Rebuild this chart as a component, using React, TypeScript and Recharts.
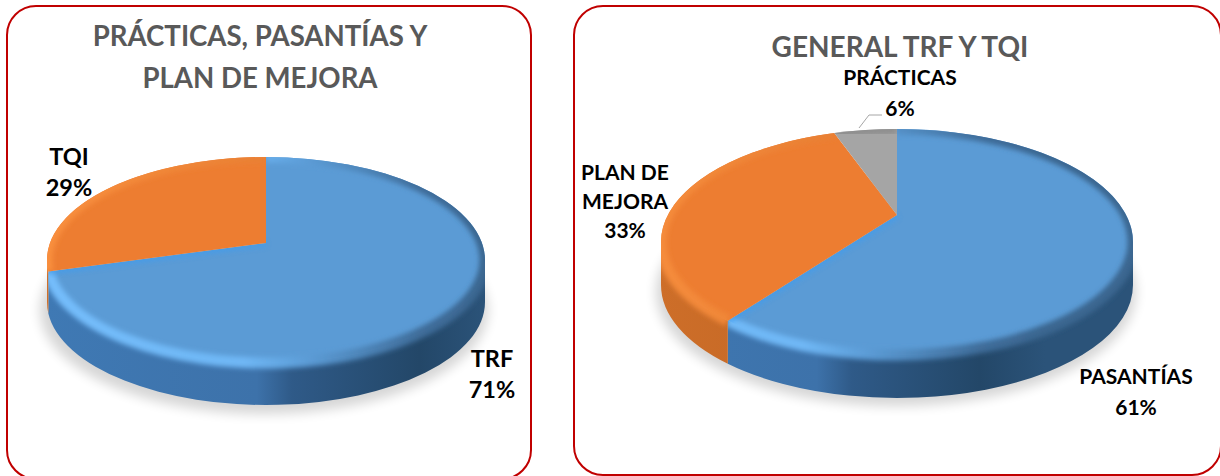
import { PieChart, Pie, Cell } from 'recharts';

const leftNames = ['TRF', 'TQI'];
const leftValues = [71, 29];
const leftColors = ['#5b9bd5', '#ed7d31'];

const rightNames = ['PASANTÍAS', 'PLAN DE MEJORA', 'PRÁCTICAS'];
const rightValues = [61, 33, 6];
const rightColors = ['#5b9bd5', '#ed7d31', '#a5a5a5'];

const leftTitle = ['PRÁCTICAS, PASANTÍAS Y', 'PLAN DE MEJORA'];
const rightTitle = ['GENERAL TRF Y TQI'];

const FONT = 'Lato, Carlito, Calibri, sans-serif';

const leftData = leftNames.map((name, i) => ({ name, value: leftValues[i] }));
const rightData = rightNames.map((name, i) => ({ name, value: rightValues[i] }));

// label layout: center x, first baseline, text lines
const leftSpots: any = {
  TRF: { x: 492, y: 367, lines: ['TRF'], size: 23.5 },
  TQI: { x: 69, y: 165, lines: ['TQI'], size: 23.5 },
};
const rightSpots: any = {
  'PASANTÍAS': { x: 576, y: 384, lines: ['PASANTÍAS'], size: 21 },
  'PLAN DE MEJORA': { x: 65, y: 180, lines: ['PLAN DE', 'MEJORA'], size: 21 },
  'PRÁCTICAS': { x: 340, y: 85, lines: ['PRÁCTICAS'], size: 21, leader: '299,128 309,115 322,115' },
};

const wallFill: any = {
  '#5b9bd5': 'url(#wallBlue)',
  '#ed7d31': 'url(#wallOrange)',
  '#a5a5a5': '#8a8a8a',
};
const rimStroke: any = {
  '#5b9bd5': 'url(#rimBlue)',
  '#ed7d31': 'url(#rimOrange)',
  '#a5a5a5': '#8f8f8f',
};

const deg = Math.PI / 180;
const TILT = 1.08;

// the disc is seen in perspective: apex sits above the ellipse center
function edgePoint(a: number, cx: number, cy: number, rx: number, ry: number, lift: number) {
  const dx = Math.cos(a * deg);
  const dy = -Math.sin(a * deg) * TILT;
  const A = dx * dx + dy * dy;
  const B = (2 * (dy * -lift)) / ry;
  const C = (lift * lift) / (ry * ry) - 1;
  const t = (-B + Math.sqrt(B * B - 4 * A * C)) / (2 * A);
  const x = cx + rx * dx * t;
  const y = cy - lift + ry * dy * t;
  return { x, y, theta: Math.atan2(-(y - cy) / ry, (x - cx) / rx) / deg };
}

function unwrap(s: number, e: number) {
  let start = s;
  let end = e;
  while (end >= start) end -= 360;
  while (start > 90.001) {
    start -= 360;
    end -= 360;
  }
  return [start, end];
}

function arcPoint(theta: number, cx: number, cy: number, rx: number, ry: number) {
  return { x: cx + rx * Math.cos(theta * deg), y: cy - ry * Math.sin(theta * deg) };
}

function wallPath(props: any, ry: number, lift: number, depth: number) {
  const { cx, cy, outerRadius: rx, startAngle, endAngle } = props;
  const p1 = edgePoint(startAngle, cx, cy, rx, ry, lift);
  const p2 = edgePoint(endAngle, cx, cy, rx, ry, lift);
  const [t1, t2] = unwrap(p1.theta, p2.theta);
  // only the lower half of the rim shows a wall
  const from = Math.min(t1, 0);
  const to = Math.max(t2, -180);
  if (from <= to) return '';
  const a = arcPoint(from, cx, cy, rx, ry);
  const b = arcPoint(to, cx, cy, rx, ry);
  return `M${a.x},${a.y} A${rx},${ry} 0 0 1 ${b.x},${b.y} L${b.x},${b.y + depth} A${rx},${ry} 0 0 0 ${a.x},${a.y + depth} Z`;
}

const makeTop = (ry: number, lift: number, depth: number) => (props: any) => {
  const { cx, cy, outerRadius: rx, startAngle, endAngle, fill } = props;
  const p1 = edgePoint(startAngle, cx, cy, rx, ry, lift);
  const p2 = edgePoint(endAngle, cx, cy, rx, ry, lift);
  const [t1, t2] = unwrap(p1.theta, p2.theta);
  const big = t1 - t2 > 180 ? 1 : 0;
  const arc = `M${p1.x},${p1.y} A${rx},${ry} 0 ${big} 1 ${p2.x},${p2.y}`;
  const d = `M${cx},${cy - lift} L${p1.x},${p1.y} A${rx},${ry} 0 ${big} 1 ${p2.x},${p2.y} Z`;
  const wall = wallPath(props, ry, lift, depth);
  const clip = `top-${Math.round(cx)}-${Math.round(startAngle)}`;
  return (
    <g>
      <clipPath id={clip}>
        <path d={d} />
      </clipPath>
      <clipPath id={`${clip}-all`}>
        <path d={d} />
        {wall && <path d={wall} />}
      </clipPath>
      <path d={d} fill={fill} />
      <g clipPath={`url(#${clip}-all)`}>
        <path d={arc} fill="none" stroke={rimStroke[fill]} strokeWidth={11} filter="url(#soft)" />
      </g>
      {fill === '#5b9bd5' && (
        <g clipPath={`url(#${clip})`}>
          <path
            d={`M${cx},${cy - lift} L${p2.x},${p2.y}`}
            stroke="#3c9df2"
            strokeWidth={7}
            opacity={0.6}
            filter="url(#soft)"
          />
        </g>
      )}
    </g>
  );
};

const makeWall = (ry: number, lift: number, depth: number) => (props: any) => {
  const d = wallPath(props, ry, lift, depth);
  if (!d) return <g />;
  return <path d={d} fill={wallFill[props.fill]} />;
};

const makeLabel = (spots: any) => (props: any) => {
  const spot = spots[props.name];
  if (!spot) return null;
  const lines = [...spot.lines, `${props.value}%`];
  return (
    <g>
      {spot.leader && <polyline points={spot.leader} fill="none" stroke="#a6a6a6" strokeWidth={1} />}
      <text x={spot.x} y={spot.y} textAnchor="middle" fontFamily={FONT} fontWeight={700} fontSize={spot.size} fill="#000000">
        {lines.map((line: string, i: number) => (
          <tspan key={i} x={spot.x} dy={i === 0 ? 0 : spot.lines.length > 1 ? 29 : i === 1 ? 31 : 29}>
            {line}
          </tspan>
        ))}
      </text>
    </g>
  );
};

const Defs = ({ x1, x2 }: { x1: number; x2: number }) => (
  <defs>
    <filter id="soft" x="-20%" y="-20%" width="140%" height="140%">
      <feGaussianBlur stdDeviation="2.5" />
    </filter>
    <filter id="shade" x="-20%" y="-40%" width="140%" height="180%">
      <feGaussianBlur stdDeviation="6" />
    </filter>
    <linearGradient id="wallBlue" gradientUnits="userSpaceOnUse" x1={x1} y1="0" x2={x2} y2="0">
      <stop offset="0" stopColor="#3f79b4" />
      <stop offset="0.48" stopColor="#3d72aa" />
      <stop offset="0.56" stopColor="#2f5a88" />
      <stop offset="0.85" stopColor="#234768" />
      <stop offset="1" stopColor="#2b5379" />
    </linearGradient>
    <linearGradient id="wallOrange" gradientUnits="userSpaceOnUse" x1={x1} y1="0" x2={x2} y2="0">
      <stop offset="0" stopColor="#d0702a" />
      <stop offset="1" stopColor="#b85f20" />
    </linearGradient>
    <linearGradient id="rimBlue" gradientUnits="userSpaceOnUse" x1={x1} y1="0" x2={x2} y2="0">
      <stop offset="0" stopColor="#74bdfb" />
      <stop offset="0.45" stopColor="#6fb7f5" />
      <stop offset="0.6" stopColor="#5b9bd5" />
      <stop offset="0.85" stopColor="#3f6d9a" />
      <stop offset="1" stopColor="#3a6690" />
    </linearGradient>
    <linearGradient id="rimOrange" gradientUnits="userSpaceOnUse" x1={x1} y1="0" x2={x2} y2="0">
      <stop offset="0" stopColor="#f98f3e" />
      <stop offset="1" stopColor="#d9722b" />
    </linearGradient>
  </defs>
);

const Panel = ({ left, top, width, height }: any) => (
  <div
    style={{
      position: 'absolute',
      left,
      top,
      width,
      height,
      boxSizing: 'border-box',
      border: '2px solid #c00000',
      borderRadius: 30,
      background: '#fff',
    }}
  />
);

const Title = ({ lines, x, y, gap, size }: any) => (
  <text x={x} y={y} textAnchor="middle" fontFamily={FONT} fontWeight={700} fontSize={size} fill="#595959">
    {lines.map((line: string, i: number) => (
      <tspan key={i} x={x} dy={i === 0 ? 0 : gap}>
        {line}
      </tspan>
    ))}
  </text>
);

const App = () => {
  return (
    <div style={{ position: 'absolute', left: 0, top: 0, width: 1220, height: 476, overflow: 'hidden', background: '#fff' }}>
      <Panel left={6} top={5} width={526} height={475} />
      <Panel left={573} top={5} width={649} height={471} />

      <div style={{ position: 'absolute', left: 0, top: 0 }}>
        <PieChart width={560} height={476} margin={{ top: 0, right: 0, bottom: 0, left: 0 }}>
          <Defs x1={46} x2={485} />
          <Title lines={leftTitle} x={260} y={46} gap={42} size={27.6} />
          <ellipse cx={264} cy={310} rx={224} ry={104} fill="#000" opacity={0.16} filter="url(#shade)" />
          <Pie
            data={leftData}
            dataKey="value"
            nameKey="name"
            cx={266}
            cy={260}
            outerRadius={219}
            startAngle={90}
            endAngle={-270}
            stroke="none"
            isAnimationActive={false}
            shape={makeWall(103, 17, 42)}
          >
            {leftColors.map((c) => (
              <Cell key={c} fill={c} />
            ))}
          </Pie>
          <Pie
            data={leftData}
            dataKey="value"
            nameKey="name"
            cx={266}
            cy={260}
            outerRadius={219}
            startAngle={90}
            endAngle={-270}
            stroke="none"
            isAnimationActive={false}
            shape={makeTop(103, 17, 42)}
            label={makeLabel(leftSpots)}
            labelLine={false}
          >
            {leftColors.map((c) => (
              <Cell key={c} fill={c} />
            ))}
          </Pie>
        </PieChart>
      </div>

      <div style={{ position: 'absolute', left: 560, top: 0 }}>
        <PieChart width={660} height={476} margin={{ top: 0, right: 0, bottom: 0, left: 0 }}>
          <Defs x1={101} x2={574} />
          <Title lines={rightTitle} x={340} y={57} gap={40} size={28} />
          <ellipse cx={336} cy={292} rx={240} ry={114} fill="#000" opacity={0.16} filter="url(#shade)" />
          <Pie
            data={rightData}
            dataKey="value"
            nameKey="name"
            cx={337}
            cy={242}
            outerRadius={236}
            startAngle={90}
            endAngle={-270}
            stroke="none"
            isAnimationActive={false}
            shape={makeWall(113, 27, 43)}
          >
            {rightColors.map((c) => (
              <Cell key={c} fill={c} />
            ))}
          </Pie>
          <Pie
            data={rightData}
            dataKey="value"
            nameKey="name"
            cx={337}
            cy={242}
            outerRadius={236}
            startAngle={90}
            endAngle={-270}
            stroke="none"
            isAnimationActive={false}
            shape={makeTop(113, 27, 43)}
            label={makeLabel(rightSpots)}
            labelLine={false}
          >
            {rightColors.map((c) => (
              <Cell key={c} fill={c} />
            ))}
          </Pie>
        </PieChart>
      </div>
    </div>
  );
};

export default App;
